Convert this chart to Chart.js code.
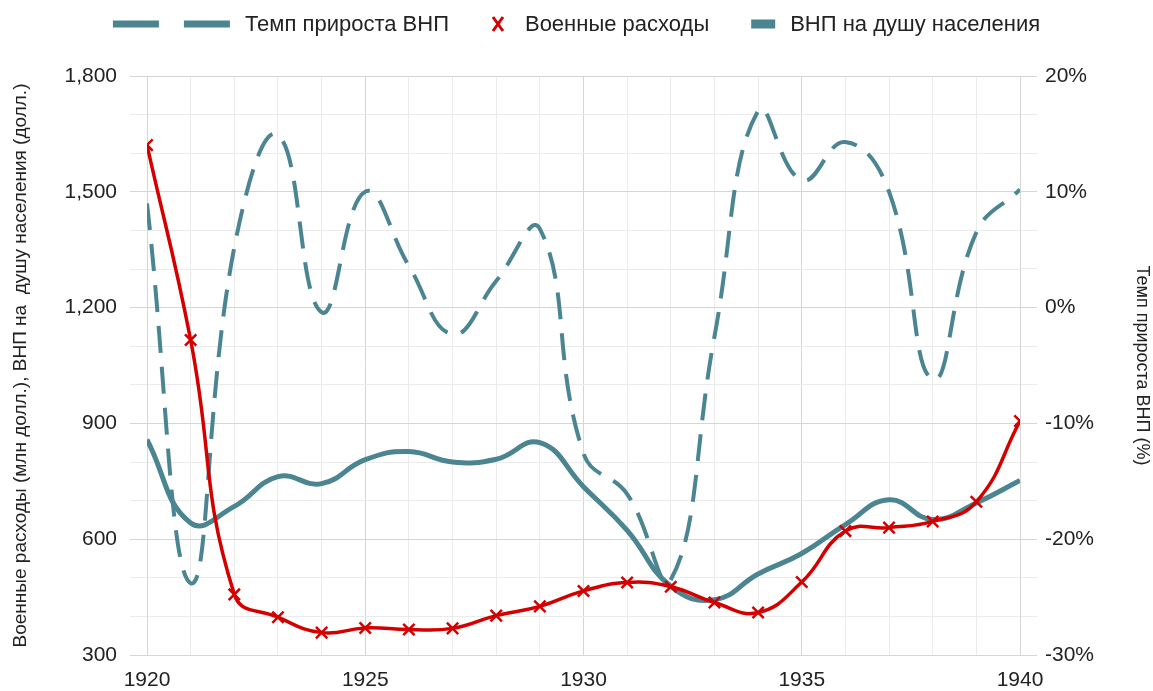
<!DOCTYPE html>
<html lang="ru">
<head>
  <meta charset="UTF-8" />
  <title>Военные расходы и ВНП, 1920–1940</title>
  <script src="https://cdn.jsdelivr.net/npm/chart.js"></script>
  <style>
    html, body { margin: 0; padding: 0; background: #ffffff; }
    .wrap { width: 1153px; height: 691px; position: relative; }
  </style>
</head>
<body>
  <div class="wrap"><canvas id="chart"></canvas></div>

  <script>
    // годы
    const years = [1920, 1921, 1922, 1923, 1924, 1925, 1926, 1927, 1928, 1929, 1930,
                   1931, 1932, 1933, 1934, 1935, 1936, 1937, 1938, 1939, 1940];

    // военные расходы, млн долл.
    const military = [1621, 1116, 457, 398, 358, 370, 366, 369, 402, 426, 466,
                      488, 477, 436, 410, 489, 621, 630, 646, 697, 906];

    // ВНП на душу населения, долл.
    const gnpPerCapita = [858, 642, 685, 762, 744, 806, 827, 800, 807, 850, 736,
                          623, 478, 443, 510, 563, 638, 702, 651, 694, 752];

    // темп прироста ВНП, %
    const gnpGrowth = [9.0, -23.8, 5.2, 14.9, -0.4, 10.0, 3.6, -2.3, 2.3, 6.8, -12.6,
                       -16.1, -23.5, -2.5, 17.0, 11.0, 14.3, 10.0, -6.2, 6.5, 10.2];

    const leftTicks = [300, 600, 900, 1200, 1500, 1800];
    const rightTicks = [-30, -20, -10, 0, 10, 20];
    const xLabelYears = [1920, 1925, 1930, 1935, 1940];

    const TEAL = '#4b8592';
    const RED = '#d40000';
    const FONT = "'Liberation Sans', Arial, sans-serif";

    const pts = vals => vals.map((v, i) => ({ x: years[i], y: v }));

    // легенда в одну строку, как в оригинале
    const rowLegend = {
      id: 'rowLegend',
      afterDraw(chart) {
        const ctx = chart.ctx;
        const y = 24;
        const markW = { dash: 117, cross: 14, box: 24 };
        const markGap = { dash: 15, cross: 20, box: 15 };
        const itemGap = 42;
        ctx.save();
        ctx.font = '22px ' + FONT;
        ctx.textBaseline = 'middle';
        const items = chart.data.datasets.map(ds => ({
          ds, w: markW[ds.legendMark] + markGap[ds.legendMark] + ctx.measureText(ds.label).width
        }));
        const total = items.reduce((s, it) => s + it.w, 0) + itemGap * (items.length - 1);
        let x = (chart.width - total) / 2;
        items.forEach(it => {
          const m = it.ds.legendMark;
          if (m === 'dash') {
            ctx.fillStyle = TEAL;
            ctx.fillRect(x, y - 3.5, 46, 7);
            ctx.fillRect(x + 71, y - 3.5, 46, 7);
          } else if (m === 'cross') {
            ctx.strokeStyle = RED;
            ctx.lineWidth = 3;
            ctx.beginPath();
            ctx.moveTo(x + 2, y - 7); ctx.lineTo(x + 12, y + 7);
            ctx.moveTo(x + 12, y - 7); ctx.lineTo(x + 2, y + 7);
            ctx.stroke();
          } else {
            ctx.fillStyle = TEAL;
            ctx.fillRect(x, y - 4.5, 24, 9);
          }
          x += markW[m] + markGap[m];
          ctx.fillStyle = '#222';
          ctx.fillText(it.ds.label, x, y + 1);
          x += ctx.measureText(it.ds.label).width + itemGap;
        });
        ctx.restore();
      }
    };

    const minorGrid = '#ebebeb';
    const majorGrid = '#d6d6d6';

    new Chart(document.getElementById('chart'), {
      type: 'line',
      data: {
        datasets: [
          {
            label: 'Темп прироста ВНП',
            legendMark: 'dash',
            data: pts(gnpGrowth),
            yAxisID: 'yRight',
            borderColor: TEAL,
            borderWidth: 4,
            borderDash: [27, 14],
            pointRadius: 0,
            tension: 0.45,
            order: 2
          },
          {
            label: 'Военные расходы',
            legendMark: 'cross',
            data: pts(military),
            yAxisID: 'y',
            borderColor: RED,
            borderWidth: 3.5,
            pointStyle: 'crossRot',
            pointRadius: 8,
            pointBorderWidth: 2.5,
            pointBorderColor: RED,
            tension: 0.45,
            order: 0
          },
          {
            label: 'ВНП на душу населения',
            legendMark: 'box',
            data: pts(gnpPerCapita),
            yAxisID: 'y',
            borderColor: TEAL,
            borderWidth: 5,
            pointRadius: 0,
            tension: 0.45,
            order: 1
          }
        ]
      },
      options: {
        responsive: true,
        maintainAspectRatio: false,
        animation: false,
        layout: { padding: { top: 76 } },
        plugins: {
          legend: { display: false },
          tooltip: { enabled: false }
        },
        scales: {
          x: {
            type: 'linear',
            min: years[0],
            max: years[years.length - 1],
            afterFit: s => { s.height = 36; },
            afterBuildTicks: s => { s.ticks = years.map(v => ({ value: v })); },
            grid: {
              drawTicks: false,
              color: c => xLabelYears.includes(c.tick && c.tick.value) ? majorGrid : minorGrid
            },
            border: { display: false },
            ticks: {
              padding: 13,
              color: '#222',
              font: { family: FONT, size: 21 },
              maxRotation: 0,
              autoSkip: false,
              callback: v => xLabelYears.includes(v) ? String(v) : ''
            }
          },
          y: {
            position: 'left',
            min: leftTicks[0],
            max: leftTicks[leftTicks.length - 1],
            afterFit: s => { s.width = 147; },
            afterBuildTicks: s => {
              const t = [];
              for (let v = leftTicks[0]; v <= leftTicks[leftTicks.length - 1]; v += 100) t.push({ value: v });
              s.ticks = t;
            },
            grid: {
              tickLength: 17,
              color: c => leftTicks.includes(c.tick && c.tick.value) ? majorGrid : minorGrid
            },
            border: { display: true, color: majorGrid },
            ticks: {
              padding: 13,
              color: '#222',
              font: { family: FONT, size: 21 },
              callback: v => leftTicks.includes(v) ? v.toLocaleString('en-US') : ''
            },
            title: {
              display: true,
              text: 'Военные расходы (млн долл.), ВНП на  душу населения (долл.)',
              color: '#222',
              font: { family: FONT, size: 19 },
              padding: { top: 9, bottom: 0 }
            }
          },
          yRight: {
            position: 'right',
            min: rightTicks[0],
            max: rightTicks[rightTicks.length - 1],
            afterFit: s => { s.width = 133; },
            afterBuildTicks: s => {
              const t = [];
              for (let k = 0; k <= 15; k++) t.push({ value: rightTicks[0] + k * 10 / 3 });
              s.ticks = t;
            },
            grid: {
              drawOnChartArea: false,
              tickLength: 17,
              color: c => (c.tick && rightTicks.some(r => Math.abs(r - c.tick.value) < 1e-6)) ? majorGrid : minorGrid
            },
            border: { display: true, color: majorGrid },
            ticks: {
              padding: 8,
              color: '#222',
              font: { family: FONT, size: 21 },
              callback: v => {
                const r = rightTicks.find(r => Math.abs(r - v) < 1e-6);
                return r === undefined ? '' : r + '%';
              }
            },
            title: {
              display: true,
              text: 'Темп прироста ВНП (%)',
              color: '#222',
              font: { family: FONT, size: 18 },
              padding: { top: 0, bottom: 3 }
            }
          }
        }
      },
      plugins: [rowLegend]
    });
  </script>
</body>
</html>
